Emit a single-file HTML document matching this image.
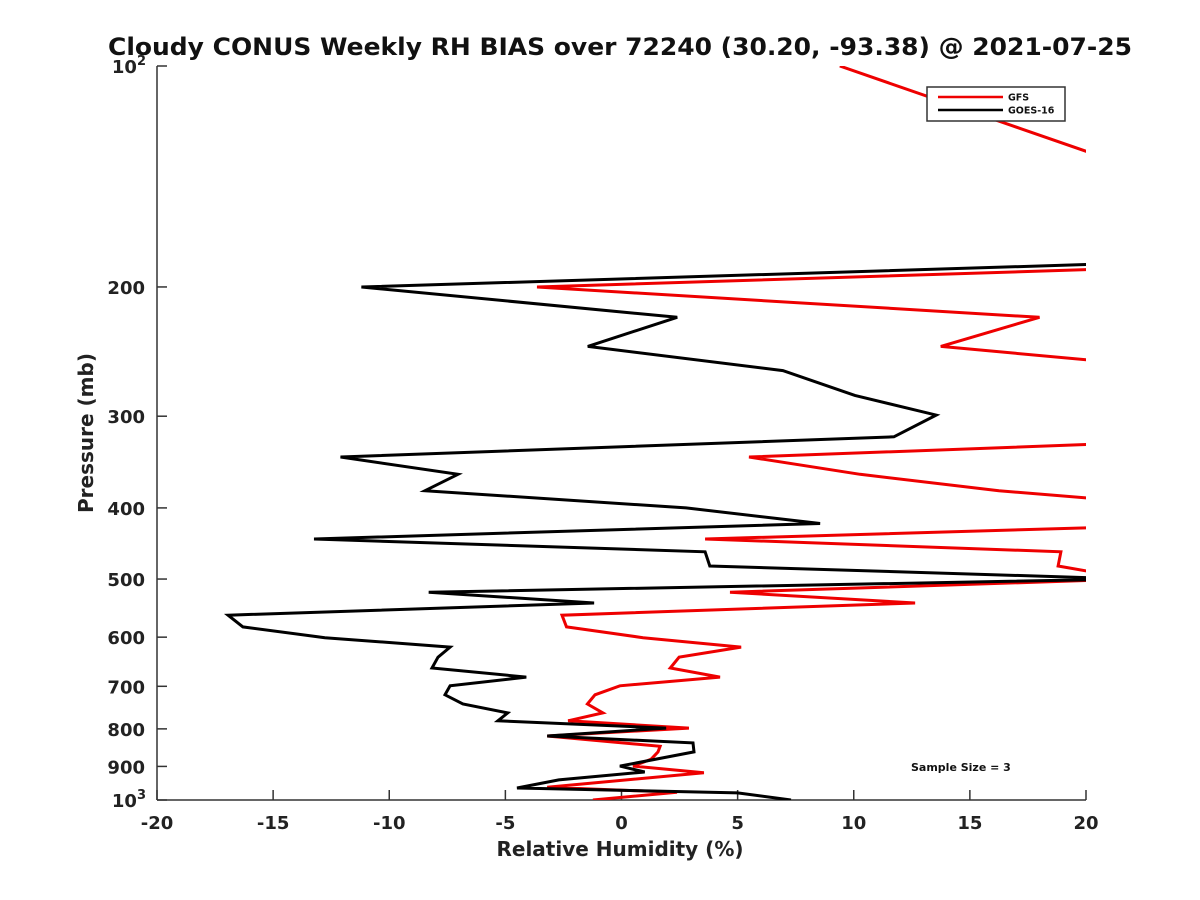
<!DOCTYPE html>
<html><head><meta charset="utf-8"><style>
html,body{margin:0;padding:0;background:#fff}
svg{display:block}
text{font-family:"DejaVu Sans","Liberation Sans",sans-serif;font-weight:bold}
</style></head><body>
<svg id="chart" width="1200" height="900" viewBox="0 0 1200 900">
<defs><clipPath id="plotclip"><rect x="157" y="66" width="929" height="734"/></clipPath></defs>
<text x="620" y="55" font-size="24" text-anchor="middle" textLength="1024" lengthAdjust="spacingAndGlyphs" fill="#111">Cloudy CONUS Weekly RH BIAS over 72240 (30.20, -93.38) @ 2021-07-25</text>
<g id="axes"></g>
<g id="series" clip-path="url(#plotclip)"></g>
<g>
<rect x="927" y="87" width="138" height="34" fill="#fff" stroke="#333" stroke-width="1.5"/>
<line x1="938" y1="97" x2="1003" y2="97" stroke="#e00" stroke-width="2.5"/>
<text x="1008" y="100.5" font-size="9.5" fill="#111">GFS</text>
<line x1="938" y1="110" x2="1003" y2="110" stroke="#000" stroke-width="2.5"/>
<text x="1008" y="113.5" font-size="9.5" fill="#111">GOES-16</text>
</g>
<text x="911" y="771" font-size="11" fill="#111">Sample Size = 3</text>
<text x="620" y="856" font-size="20" text-anchor="middle" fill="#222">Relative Humidity (%)</text>
<text x="0" y="0" font-size="20" text-anchor="middle" fill="#222" transform="translate(93,433) rotate(-90)">Pressure (mb)</text>
</svg>
<script>
const xTicks = [-20,-15,-10,-5,0,5,10,15,20];
const yTicks = [100,200,300,400,500,600,700,800,900,1000];
const gfsRH = [9.4,21,21,-3.64,18.0,13.75,21,21,5.49,10.27,16.25,21,21,3.6,18.92,18.8,22,4.67,12.64,-2.56,-2.37,0.93,5.15,2.48,2.1,4.24,-0.07,-1.14,-1.47,-0.8,-2.3,2.9,-3.2,1.66,1.57,1.27,0.5,3.55,-3.2,2.39,-1.23];
const gfsP = [100,134,189,200,220,241,253,327,341,360,379,390,425,441,459,480,500,521,539,560,581,601,619,639,661,680,699,719,740,761,780,798,818,845,860,880,899,918,961,976,1000];
const goesRH = [21,-11.2,2.4,-1.45,6.95,10.05,13.55,11.73,-12.1,-7.04,-8.46,2.78,8.55,-13.24,3.6,3.8,22,-8.3,-1.18,-16.94,-16.3,-12.77,-7.38,-7.9,-8.16,-4.1,-7.38,-7.6,-6.83,-4.9,-5.32,1.92,-3.2,3.08,3.12,-0.07,1.0,-2.7,-4.5,5.0,7.3];
const goesP = [186,200,220,241,260,281,299,320,341,360,379,400,420,441,459,480,500,521,539,560,581,601,619,639,661,680,699,719,740,761,780,798,818,836,860,899,916,939,963,978,1000];

const X0=157,X1=1086,Y0=66,Y1=800;
const xs = v => X0 + (v+20)/40*(X1-X0);
const ys = p => Y0 + (Math.log10(p)-2)*(Y1-Y0);
const NS="http://www.w3.org/2000/svg";
const axes=document.getElementById('axes');
const series=document.getElementById('series');
function mk(tag,attrs,parent){const e=document.createElementNS(NS,tag);for(const k in attrs)e.setAttribute(k,attrs[k]);parent.appendChild(e);return e;}

const xl=mk('line',{x1:X0,y1:Y1,x2:X1,y2:Y1,stroke:'#333','stroke-width':1.5},axes);


const yl=mk('line',{x1:X0,y1:Y0,x2:X0,y2:Y1,stroke:'#333','stroke-width':1.5},axes);



xTicks.forEach(v=>{
  const x=xs(v);
  const t=mk('line',{x1:x,y1:Y1,x2:x,y2:Y1-10,stroke:'#333','stroke-width':1.5},axes);
  
  
  const l=mk('text',{x:x,y:829,'font-size':18,'text-anchor':'middle',fill:'#222'},axes);
  l.textContent=String(v);
  
  
});
yTicks.forEach(p=>{
  const y=ys(p);
  const t=mk('line',{x1:X0,y1:y,x2:X0+10,y2:y,stroke:'#333','stroke-width':1.5},axes);
  
  
  const l=mk('text',{x:145,y:y+7,'font-size':18,'text-anchor':'end',fill:'#222'},axes);
  if(p===100||p===1000){
    l.textContent='10';
    const s=mk('tspan',{dy:-8,'font-size':13},l);
    s.textContent=p===100?'2':'3';
    l.setAttribute('x',146);
  } else l.textContent=String(p);
  
  
});

function line(vals,ps,color,name){
  const pts=vals.map((v,i)=>xs(v).toFixed(1)+','+ys(ps[i]).toFixed(1)).join(' ');
  const pl=mk('polyline',{points:pts,fill:'none',stroke:color,'stroke-width':3,'stroke-linejoin':'miter'},series);
  
  
}
line(gfsRH,gfsP,'#e00','gfs-line');
line(goesRH,goesP,'#000','goes16-line');
</script>
</body></html>
